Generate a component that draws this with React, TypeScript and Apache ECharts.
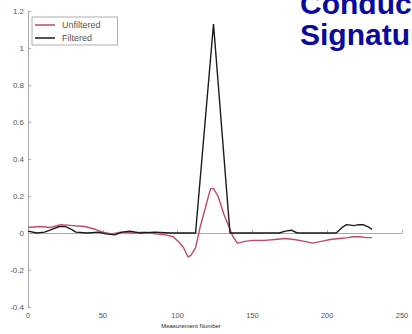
import React, { useEffect, useRef } from "react";
import * as echarts from "echarts";

const seriesNames = ["Unfiltered", "Filtered"];

const unfilteredIdx = [0, 8, 15, 22, 30, 38, 45, 50, 56, 62, 70, 78, 85, 92, 97, 101, 104, 107, 109, 112, 115, 119, 122, 124, 127, 131, 134, 137, 140, 145, 150, 158, 165, 172, 178, 185, 190, 196, 202, 208, 214, 217, 222, 226, 230];
const unfilteredVal = [0.03, 0.035, 0.03, 0.045, 0.04, 0.035, 0.02, 0.005, -0.005, 0.005, 0, 0.005, -0.005, -0.01, -0.02, -0.05, -0.08, -0.13, -0.12, -0.08, 0.03, 0.15, 0.24, 0.24, 0.2, 0.1, 0.04, -0.02, -0.055, -0.045, -0.04, -0.04, -0.035, -0.03, -0.035, -0.045, -0.055, -0.045, -0.035, -0.03, -0.025, -0.02, -0.02, -0.025, -0.025];

const filteredIdx = [0, 6, 11, 16, 21, 25, 29, 32, 40, 47, 52, 58, 63, 68, 75, 85, 95, 112, 124, 135, 168, 172, 176, 180, 206, 210, 213, 218, 221, 224, 227, 230];
const filteredVal = [0.01, 0.0, 0.005, 0.02, 0.035, 0.035, 0.02, 0.005, 0.0, 0.005, -0.005, -0.01, 0.005, 0.01, 0.0, 0.005, 0, 0, 1.13, 0, 0, 0.01, 0.015, 0, 0, 0.03, 0.045, 0.04, 0.045, 0.045, 0.035, 0.02];

const titleLines = ["Conductivity", "Signature"];
const xAxisTitle = "Measurement Number";

export default function App() {
  const ref = useRef<HTMLDivElement>(null);
  useEffect(() => {
    if (!ref.current) return;
    const chart = echarts.init(ref.current, undefined, { renderer: "svg" });
    const font = "Liberation Sans, Arial";
    chart.setOption({
      animation: false,
      backgroundColor: "#ffffff",
      grid: { left: 28, right: 10, top: 11, bottom: 27 },
      legend: {
        orient: "vertical",
        left: 32,
        top: 17,
        icon: "rect",
        itemWidth: 20,
        itemHeight: 1.5,
        itemGap: 3,
        padding: [3, 17, 2, 3],
        borderColor: "#999",
        borderWidth: 0.8,
        textStyle: { fontSize: 9, lineHeight: 10, color: "#555", fontFamily: font, padding: [0, 0, 0, 2] },
        data: seriesNames,
      },
      xAxis: {
        type: "value",
        min: 0,
        max: 250,
        interval: 50,
        axisLine: { lineStyle: { color: "#aaa", width: 1 } },
        axisTick: { show: true, inside: true, length: 3, lineStyle: { color: "#aaa" } },
        splitLine: { show: false },
        axisLabel: { fontSize: 7.5, color: "#555", fontFamily: font, margin: 4 },
      },
      yAxis: {
        type: "value",
        min: -0.4,
        max: 1.2,
        interval: 0.2,
        axisLine: { show: true, lineStyle: { color: "#aaa", width: 1 } },
        axisTick: { show: true, inside: true, length: 3, lineStyle: { color: "#aaa" } },
        splitLine: { show: false },
        axisLabel: { fontSize: 8, color: "#555", fontFamily: font, margin: 4 },
      },
      series: [
        {
          name: seriesNames[0],
          type: "line",
          showSymbol: false,
          color: "#c24a66",
          lineStyle: { width: 1.4, color: "#c24a66" },
          data: unfilteredIdx.map((x, i) => [x, unfilteredVal[i]]),
          z: 2,
        },
        {
          name: seriesNames[1],
          type: "line",
          showSymbol: false,
          color: "#1a1a1a",
          lineStyle: { width: 1.4, color: "#1a1a1a" },
          data: filteredIdx.map((x, i) => [x, filteredVal[i]]),
          z: 3,
        },
      ],
      graphic: [
        {
          type: "text",
          x: 300,
          y: -12,
          style: {
            text: titleLines.join("\n"),
            font: "bold 30px 'Liberation Sans', Arial",
            lineHeight: 31,
            fill: "#0a0a9c",
            verticalAlign: "top",
          },
        },
        {
          type: "text",
          x: 191,
          y: 326,
          style: {
            text: xAxisTitle,
            font: "6px 'Liberation Sans', Arial",
            fill: "#222",
            align: "center",
            verticalAlign: "middle",
          },
        },
      ],
    });
    return () => chart.dispose();
  }, []);
  return (
    <div
      ref={ref}
      style={{ position: "fixed", left: 0, top: 0, width: 412, height: 334, overflow: "hidden" }}
    />
  );
}
